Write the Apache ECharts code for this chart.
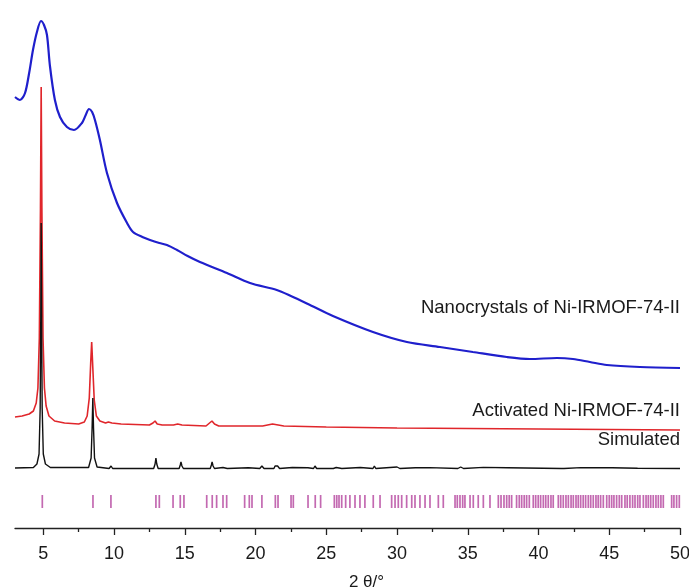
<!DOCTYPE html>
<html>
<head>
<meta charset="utf-8">
<script src="https://cdn.jsdelivr.net/npm/echarts@6/dist/echarts.min.js"></script>
<style>
html,body{margin:0;padding:0;background:#fff;}
#chart{width:689px;height:588px;}
</style>
</head>
<body>
<div id="chart"></div>
<script>
// 2θ (degrees) vs intensity (arbitrary units, offset traces)
var nanocrystals = [
  [3.0,431],[3.35,428],[3.71,435],[4.0,455],[4.27,478],[4.55,496],[4.84,507],[5.05,503],
  [5.26,493],[5.47,462],[5.82,428],[6.18,411],[6.67,401],[7.17,398],[7.73,405],[8.0,413],
  [8.23,419],[8.45,416],[8.65,408],[9.0,388],[9.5,355],[10.21,325],[10.92,305],[11.34,296],
  [12.0,291],[12.54,288],[13.2,285],[13.74,283],[14.45,278],[15.2,272],[16.07,266],
  [17.98,255],[19.61,245],[21.5,238],[22.5,232],[23.85,223],[25.47,212],[28.3,196],
  [30.7,186],[33.03,181],[35.36,176],[37.76,171],[39.39,169],[41.3,170],[42.43,169],
  [43.63,166],[44.83,163],[47.16,161],[50.0,160]
];
var activated = [
  [3.0,111],[3.5,112],[4.0,114],[4.3,117],[4.5,125],[4.62,140],[4.72,190],[4.8,320],
  [4.85,441],[4.9,320],[4.98,190],[5.08,140],[5.2,122],[5.4,112],[5.8,107],[6.5,105],
  [7.5,104],[7.9,106],[8.1,112],[8.25,130],[8.35,165],[8.42,186],[8.5,160],[8.6,128],
  [8.75,112],[9.0,107],[9.4,105],[9.6,106],[9.72,108],[9.85,105],[10.5,104],[12.5,103],
  [12.75,105],[12.9,107],[13.05,104],[13.4,103],[14.2,103],[14.5,104],[14.8,103],
  [16.5,102],[16.75,105],[16.92,107],[17.1,104],[17.4,102],[20.5,102],[21.2,104],
  [22.0,102],[25.0,101],[30.0,100],[35.0,99.5],[40.0,99],[45.0,98.5],[50.0,98]
];
var simulated = [
  [3.0,60],[4.3,60.5],[4.55,64],[4.7,74],[4.78,120],[4.82,210],[4.85,305],[4.88,210],
  [4.92,120],[5.0,74],[5.15,64],[5.5,60.5],[8.2,60.5],[8.38,70],[8.45,100],[8.5,130],
  [8.55,100],[8.62,70],[8.8,61],[9.65,59.5],[9.79,62],[9.9,59.5],[12.8,59.5],[12.9,64],
  [12.96,70],[13.02,64],[13.12,59.5],[14.6,59.5],[14.68,63],[14.73,66],[14.8,62],
  [14.9,59.5],[16.8,59.5],[16.88,63],[16.93,66],[17.0,62],[17.1,59.5],[17.7,60.5],
  [18.0,59.5],[19.5,60.2],[20.3,59.5],[20.45,62],[20.6,59.5],[21.3,59.5],[21.38,62],
  [21.47,61],[21.56,62],[21.7,59.5],[22.6,60.5],[23.7,60.3],[24.1,59.5],[24.2,62],
  [24.32,59.5],[25.5,59.5],[25.6,61.5],[25.7,60.5],[26.1,59.5],[27.4,60.5],[28.3,59.5],
  [28.4,62],[28.5,59.5],[30.0,61],[30.2,59.5],[31.3,60.3],[32.3,60.4],[34.3,59.5],
  [34.5,61],[34.7,59.5],[36.1,60.6],[37.8,60.3],[41.6,59.5],[41.7,61.5],[41.8,59.5],
  [43.0,60.4],[45.2,60.3],[47.0,59.8],[50.0,59.5]
];
// calculated Bragg reflection positions (2θ)
var braggPositions = [
  4.93,8.51,9.78,12.96,13.20,14.17,14.68,14.94,16.55,16.94,17.25,17.70,17.96,19.23,19.56,
  19.75,20.45,21.40,21.59,22.51,22.67,23.71,24.22,24.60,25.57,25.74,25.90,26.09,26.37,
  26.67,27.03,27.38,27.73,28.32,28.80,29.62,29.86,30.09,30.33,30.68,31.04,31.27,31.62,
  31.98,32.33,32.92,33.27,34.10,34.26,34.45,34.64,34.80,35.16,35.39,35.74,36.10,36.57,
  37.16,37.35,37.56,37.75,37.93,38.10,38.45,38.64,38.81,38.99,39.16,39.35,39.63,39.80,
  39.98,40.15,40.34,40.51,40.69,40.88,41.04,41.40,41.57,41.75,41.94,42.11,42.30,42.46,
  42.65,42.81,42.98,43.16,43.33,43.52,43.69,43.87,44.06,44.22,44.39,44.58,44.82,45.00,
  45.17,45.33,45.52,45.71,45.88,46.11,46.27,46.46,46.65,46.82,47.01,47.17,47.41,47.60,
  47.76,47.93,48.11,48.30,48.47,48.65,48.82,49.41,49.57,49.76,49.95
];
var braggLevel = 26.5;
var majorTicks = [5,10,15,20,25,30,35,40,45,50];
var minorTicks = [7.5,12.5,17.5,22.5,27.5,32.5,37.5,42.5,47.5];
var seriesNames = ['Nanocrystals of Ni-IRMOF-74-II','Activated Ni-IRMOF-74-II','Simulated'];
var axisTitle = '2 θ/°';

var FONT = "'Liberation Sans', Arial, sans-serif";
var chart = echarts.init(document.getElementById('chart'), null, {renderer:'canvas'});
var option = {
  animation:false,
  backgroundColor:'#ffffff',
  grid:{left:15,right:9,top:0,bottom:60,containLabel:false,outerBoundsMode:'none'},
  xAxis:[{
    type:'value', min:3, max:50,
    name:axisTitle, nameLocation:'middle', nameGap:46,
    nameTextStyle:{fontFamily:FONT,fontSize:17,color:'#1a1a1a',padding:[0,0,0,38]},
    axisLine:{show:true,onZero:false,lineStyle:{color:'#222',width:1.3}},
    axisTick:{show:true,length:7,customValues:majorTicks,lineStyle:{color:'#222',width:1.3}},
    axisLabel:{show:true,customValues:majorTicks,margin:17,fontFamily:FONT,fontSize:18,color:'#1a1a1a'},
    splitLine:{show:false}
  },{
    type:'value', min:3, max:50, position:'bottom',
    axisLine:{show:false,onZero:false},
    axisTick:{show:true,length:4,customValues:minorTicks,lineStyle:{color:'#222',width:1.3}},
    axisLabel:{show:false},
    splitLine:{show:false}
  }],
  yAxis:{type:'value',min:0,max:528,show:false},
  series:[
    {name:seriesNames[0],type:'line',data:nanocrystals,smooth:0.3,showSymbol:false,
     lineStyle:{color:'#1f1fcc',width:2.2},z:2},
    {name:seriesNames[1],type:'line',data:activated,smooth:false,showSymbol:false,
     lineStyle:{color:'#e0262b',width:1.6},z:3},
    {name:seriesNames[2],type:'line',data:simulated,smooth:false,showSymbol:false,
     lineStyle:{color:'#111111',width:1.4},z:4},
    {name:'Bragg',type:'scatter',data:braggPositions.map(function(p){return [p,braggLevel];}),
     symbol:'rect',symbolSize:[1.7,13],itemStyle:{color:'#b4449e'},z:5}
  ],
  graphic:[
    {type:'text',right:9,top:298,style:{text:seriesNames[0],font:'18.5px '+FONT,fill:'#1a1a1a'}},
    {type:'text',right:9,top:401,style:{text:seriesNames[1],font:'18.5px '+FONT,fill:'#1a1a1a'}},
    {type:'text',right:9,top:430,style:{text:seriesNames[2],font:'18.5px '+FONT,fill:'#1a1a1a'}}
  ]
};
chart.setOption(option);
</script>
</body>
</html>
